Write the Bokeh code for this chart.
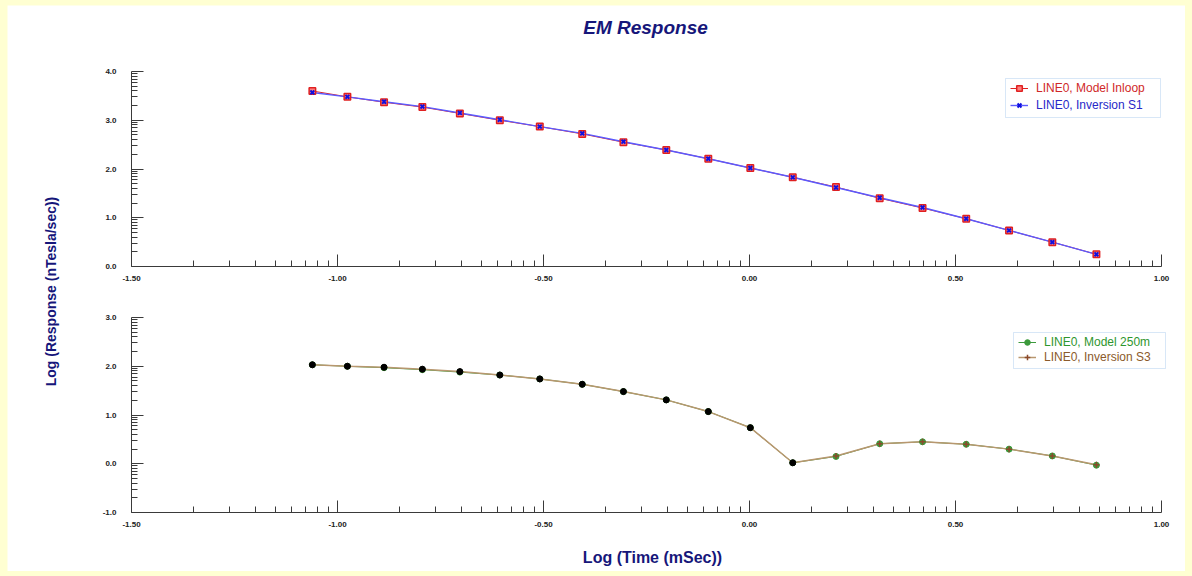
import math
from bokeh.plotting import figure
from bokeh.layouts import column
from bokeh.models import (Range1d, LinearAxis, FixedTicker, Label, Legend, LegendItem,
                          BoxAnnotation, PrintfTickFormatter)
from bokeh.embed import file_html
from bokeh.resources import INLINE

# ---------------- data ----------------
log_time = [-1.061, -0.976, -0.887, -0.794, -0.703, -0.606, -0.509, -0.406, -0.306, -0.202,
            -0.100, 0.002, 0.105, 0.210, 0.316, 0.420, 0.526, 0.630, 0.735, 0.842]

model_inloop = [3.60, 3.48, 3.37, 3.27, 3.14, 3.00, 2.87, 2.72, 2.55, 2.39,
                2.21, 2.02, 1.83, 1.63, 1.40, 1.20, 0.98, 0.74, 0.50, 0.25]
inversion_s1 = [3.57, 3.48, 3.38, 3.28, 3.15, 3.01, 2.87, 2.73, 2.56, 2.39,
                2.21, 2.02, 1.83, 1.62, 1.41, 1.21, 0.98, 0.74, 0.50, 0.25]

model_250m = [2.03, 2.00, 1.97, 1.93, 1.88, 1.82, 1.74, 1.63, 1.48, 1.31,
              1.07, 0.74, 0.02, 0.15, 0.41, 0.45, 0.40, 0.30, 0.16, -0.03]
inversion_s3 = [2.03, 2.00, 1.98, 1.94, 1.89, 1.82, 1.74, 1.63, 1.48, 1.31,
                1.07, 0.74, 0.02, 0.16, 0.41, 0.45, 0.40, 0.30, 0.16, -0.02]
n_early_gates = 13  # early gates drawn with black markers in the lower panel

x_major = [-1.5, -1.0, -0.5, 0.0, 0.5, 1.0]
top_y_major = [0.0, 1.0, 2.0, 3.0, 4.0]
bot_y_major = [-1.0, 0.0, 1.0, 2.0, 3.0]

labels = {
    "title": "EM Response",
    "x": "Log (Time (mSec))",
    "y": "Log (Response (nTesla/sec))",
    "l1": "LINE0, Model Inloop",
    "l2": "LINE0, Inversion S1",
    "l3": "LINE0, Model 250m",
    "l4": "LINE0, Inversion S3",
}

# ---------------- layout (page pixels) ----------------
PAGE_W, PAGE_H = 1192, 576
MX, MY = 7, 5                      # yellow page frame
W, H = PAGE_W - 2 * MX, PAGE_H - 2 * MY
FL, FR, FT, FB = MX, PAGE_W - MX, MY, PAGE_H - MY   # frame covers the whole white card
AX_L, AX_R = 131, 1161             # x-axis extent (page px) for -1.5 .. 1.0
TOP_Y4, TOP_Y0 = 71, 266           # top panel 4.0 .. 0.0
BOT_Y3, BOT_YM1 = 317, 512         # bottom panel 3.0 .. -1.0

xu = (x_major[-1] - x_major[0]) / (AX_R - AX_L)
tu = (top_y_major[-1] - top_y_major[0]) / (TOP_Y0 - TOP_Y4)
bu = (bot_y_major[-1] - bot_y_major[0]) / (BOT_YM1 - BOT_Y3)

def px_x(px):
    return x_major[0] + (px - AX_L) * xu

def px_top(py):
    return top_y_major[0] + (TOP_Y0 - py) * tu

def px_bot(py):
    return bot_y_major[0] + (BOT_YM1 - py) * bu

x_minor = [m + 0.5 * math.log10(k) for m in x_major[:-1] for k in range(2, 10)]
top_y_minor = [m + math.log10(k) for m in top_y_major[:-1] for k in range(2, 10)]
bot_y_minor = [m + math.log10(k) for m in bot_y_major[:-1] for k in range(2, 10)]

p = figure(width=W, height=H, output_backend="svg", toolbar_location=None,
           x_axis_location=None, y_axis_location=None,
           x_range=Range1d(px_x(FL), px_x(FR)),
           y_range=Range1d(px_top(FB), px_top(FT)),
           min_border_left=0, min_border_right=0, min_border_top=0, min_border_bottom=0)
p.extra_y_ranges = {"bot": Range1d(px_bot(FB), px_bot(FT))}
p.xgrid.visible = False
p.ygrid.visible = False
p.outline_line_color = None
p.background_fill_color = "white"
p.border_fill_color = "white"
p.margin = (MY, MX, MY, MX)

NAVY = "#16167A"
FONT = "Liberation Sans"

def style_axis(ax):
    ax.axis_line_color = "#3a3a3a"
    ax.axis_line_width = 1
    ax.major_tick_line_color = "#3a3a3a"
    ax.minor_tick_line_color = "#3a3a3a"
    ax.major_tick_in = 12
    ax.major_tick_out = 0
    ax.minor_tick_in = 6
    ax.minor_tick_out = 0
    ax.major_label_text_font = FONT
    ax.major_label_text_font_style = "bold"
    ax.major_label_text_font_size = "8px"
    ax.major_label_text_color = "#222222"

# x axes (one per panel)
for rng, loc in ((None, top_y_major[0]), ("bot", bot_y_major[0])):
    kw = {} if rng is None else {"y_range_name": rng}
    ax = LinearAxis(ticker=FixedTicker(ticks=x_major, minor_ticks=x_minor),
                    formatter=PrintfTickFormatter(format="%.2f"),
                    fixed_location=loc, bounds=(x_major[0], x_major[-1]), **kw)
    style_axis(ax)
    ax.major_label_standoff = 9
    p.add_layout(ax, "below")

# y axes (one per panel)
for rng, maj, mnr in ((None, top_y_major, top_y_minor), ("bot", bot_y_major, bot_y_minor)):
    kw = {} if rng is None else {"y_range_name": rng}
    ax = LinearAxis(ticker=FixedTicker(ticks=maj, minor_ticks=mnr),
                    formatter=PrintfTickFormatter(format="%.1f"),
                    fixed_location=x_major[0], bounds=(maj[0], maj[-1]), **kw)
    style_axis(ax)
    ax.major_label_standoff = 15
    p.add_layout(ax, "left")

# titles
p.add_layout(Label(x=px_x(645), y=px_top(27), text=labels["title"], text_font=FONT,
                   text_font_style="bold italic", text_font_size="19px", text_color=NAVY,
                   text_align="center", text_baseline="middle"))
p.add_layout(Label(x=px_x(50), y=px_top(291), text=labels["y"], text_font=FONT,
                   text_font_style="bold", text_font_size="14px", text_color=NAVY,
                   angle=math.pi / 2, text_align="center", text_baseline="middle"))
p.add_layout(Label(x=px_x(652), y=px_bot(557), text=labels["x"], y_range_name="bot",
                   text_font=FONT, text_font_style="bold", text_font_size="16px",
                   text_color=NAVY, text_align="center", text_baseline="middle"))

# ---------------- top panel ----------------
RED, BLUE = "#E02020", "#5A5AFF"
r_red_l = p.line(log_time, model_inloop, line_color=RED, line_width=1)
r_blue_l = p.line(log_time, inversion_s1, line_color=BLUE, line_width=1.4)
r_red_m = p.scatter(log_time, model_inloop, marker="square", size=6.5, line_color=RED,
                    fill_color="#FF8080", line_width=1.5)
r_blue_m = p.scatter(log_time, inversion_s1, marker="x", size=5.5, line_color="#1010E0",
                     line_width=2)

# ---------------- bottom panel ----------------
GREEN, BROWN = "#3C9A3C", "#B8976F"
r_g_l = p.line(log_time, model_250m, line_color=GREEN, line_width=1.0, y_range_name="bot")
r_b_l = p.line(log_time, inversion_s3, line_color=BROWN, line_width=1.5, y_range_name="bot")
r_g_m = p.scatter(log_time, model_250m, marker="circle", size=6, line_color=GREEN,
                  fill_color=GREEN, y_range_name="bot")
r_b_m = p.scatter(log_time, inversion_s3, marker="cross", size=6, line_color="#8B4A2B",
                  line_width=1.5, y_range_name="bot")
p.scatter(log_time[:n_early_gates], inversion_s3[:n_early_gates], marker="circle", size=6,
          line_color="black", fill_color="black", y_range_name="bot")

# ---------------- legends ----------------
p.add_layout(BoxAnnotation(left=px_x(1005), right=px_x(1160), top=px_top(78), bottom=px_top(117),
                           fill_color="white", fill_alpha=1, line_color="#7FB0E6", line_width=1))
p.add_layout(BoxAnnotation(left=px_x(1013), right=px_x(1165), top=px_bot(332), bottom=px_bot(368),
                           y_range_name="bot", fill_color="white", fill_alpha=1,
                           line_color="#7FB0E6", line_width=1))

def item_legend(label, renderers, color, gx, row_bottom):
    lg = Legend(items=[LegendItem(label=label, renderers=renderers)],
                location=(gx - FL, FB - row_bottom),
                border_line_alpha=0, background_fill_alpha=0, padding=0, margin=0,
                label_text_color=color, label_text_font=FONT, label_text_font_size="12px",
                glyph_width=18, glyph_height=14, label_height=14, label_standoff=8, spacing=0)
    p.add_layout(lg)

item_legend(labels["l1"], [r_red_l, r_red_m], "#D02828", 1010, 95)
item_legend(labels["l2"], [r_blue_l, r_blue_m], "#2828C8", 1010, 112)
item_legend(labels["l3"], [r_g_l, r_g_m], "#2E962E", 1018, 349)
item_legend(labels["l4"], [r_b_l, r_b_m], "#8B5A2B", 1018, 364)

root = column(p, styles={"background-color": "#FFFFD2"})
open("out.html", "w").write(file_html(root, INLINE))
